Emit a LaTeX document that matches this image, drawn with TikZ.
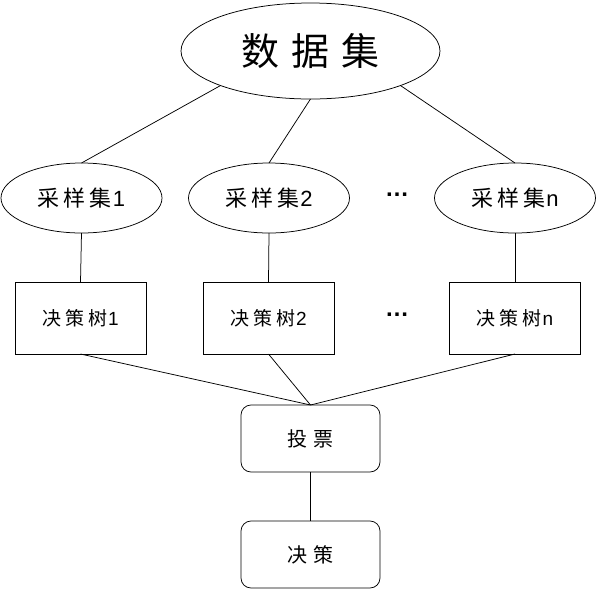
\documentclass[tikz,border=0pt]{standalone}
\usepackage{fontspec}
\setmainfont{Liberation Sans}
\newfontfamily\cjk{Noto Sans CJK SC}
\usetikzlibrary{shapes.geometric}
\begin{document}
\begin{tikzpicture}[x=1pt,y=-1pt,
  every node/.style={inner sep=0pt, outer sep=0pt},
  ell/.style={draw, ellipse, line width=0.75pt},
  sampleell/.style={ell, minimum width=161pt, minimum height=70pt, font=\fontsize{22}{26}\selectfont},
  treebox/.style={draw, rectangle, line width=0.75pt, minimum width=131pt, minimum height=72pt, font=\fontsize{19}{23}\selectfont},
  rbox/.style={draw, rectangle, rounded corners=10pt, line width=0.75pt, minimum width=139pt, minimum height=67pt, font=\fontsize{20}{24}\selectfont},
  conn/.style={line width=0.75pt},
  dots/.style={font=\fontsize{24}{28}\selectfont\bfseries}]
\useasboundingbox (0,0) rectangle (597,590);

\node[ell, minimum width=259pt, minimum height=96pt, font=\fontsize{38}{44}\selectfont] (top) at (310.5,51) {\cjk 数\hspace{12pt}据\hspace{12pt}集};

\node[sampleell] (s1) at (81.5,198) {\cjk 采\hspace{4pt}样\hspace{4pt}集\hspace{1pt}\normalfont 1};
\node[sampleell] (s2) at (269,198) {\cjk 采\hspace{4pt}样\hspace{4pt}集\hspace{1pt}\normalfont 2};
\node[sampleell] (sn) at (515,198) {\cjk 采\hspace{4pt}样\hspace{4pt}集\hspace{1pt}\normalfont n};
\node[dots] (d1) at (397,195) {…};

\node[treebox] (t1) at (80.5,318) {\cjk 决\hspace{4pt}策\hspace{4pt}树\hspace{1pt}\normalfont 1};
\node[treebox] (t2) at (268.5,318) {\cjk 决\hspace{4pt}策\hspace{4pt}树\hspace{1pt}\normalfont 2};
\node[treebox] (tn) at (515,318) {\cjk 决\hspace{4pt}策\hspace{4pt}树\hspace{1pt}\normalfont n};
\node[dots] (d2) at (397,315) {…};

\node[rbox] (vote) at (310.5,438.5) {\cjk 投\hspace{6pt}票};
\node[rbox] (dec) at (310.5,554.5) {\cjk 决\hspace{6pt}策};

\draw[conn] (top.201) -- (s1.north);
\draw[conn] (top.south) -- (s2.north);
\draw[conn] (top.339) -- (sn.north);
\draw[conn] (s1.south) -- (t1.north);
\draw[conn] (s2.south) -- (t2.north);
\draw[conn] (sn.south) -- (tn.north);
\draw[conn] (t1.south) -- (vote.north);
\draw[conn] (t2.south) -- (vote.north);
\draw[conn] (tn.south) -- (vote.north);
\draw[conn] (vote.south) -- (dec.north);
\end{tikzpicture}
\end{document}
